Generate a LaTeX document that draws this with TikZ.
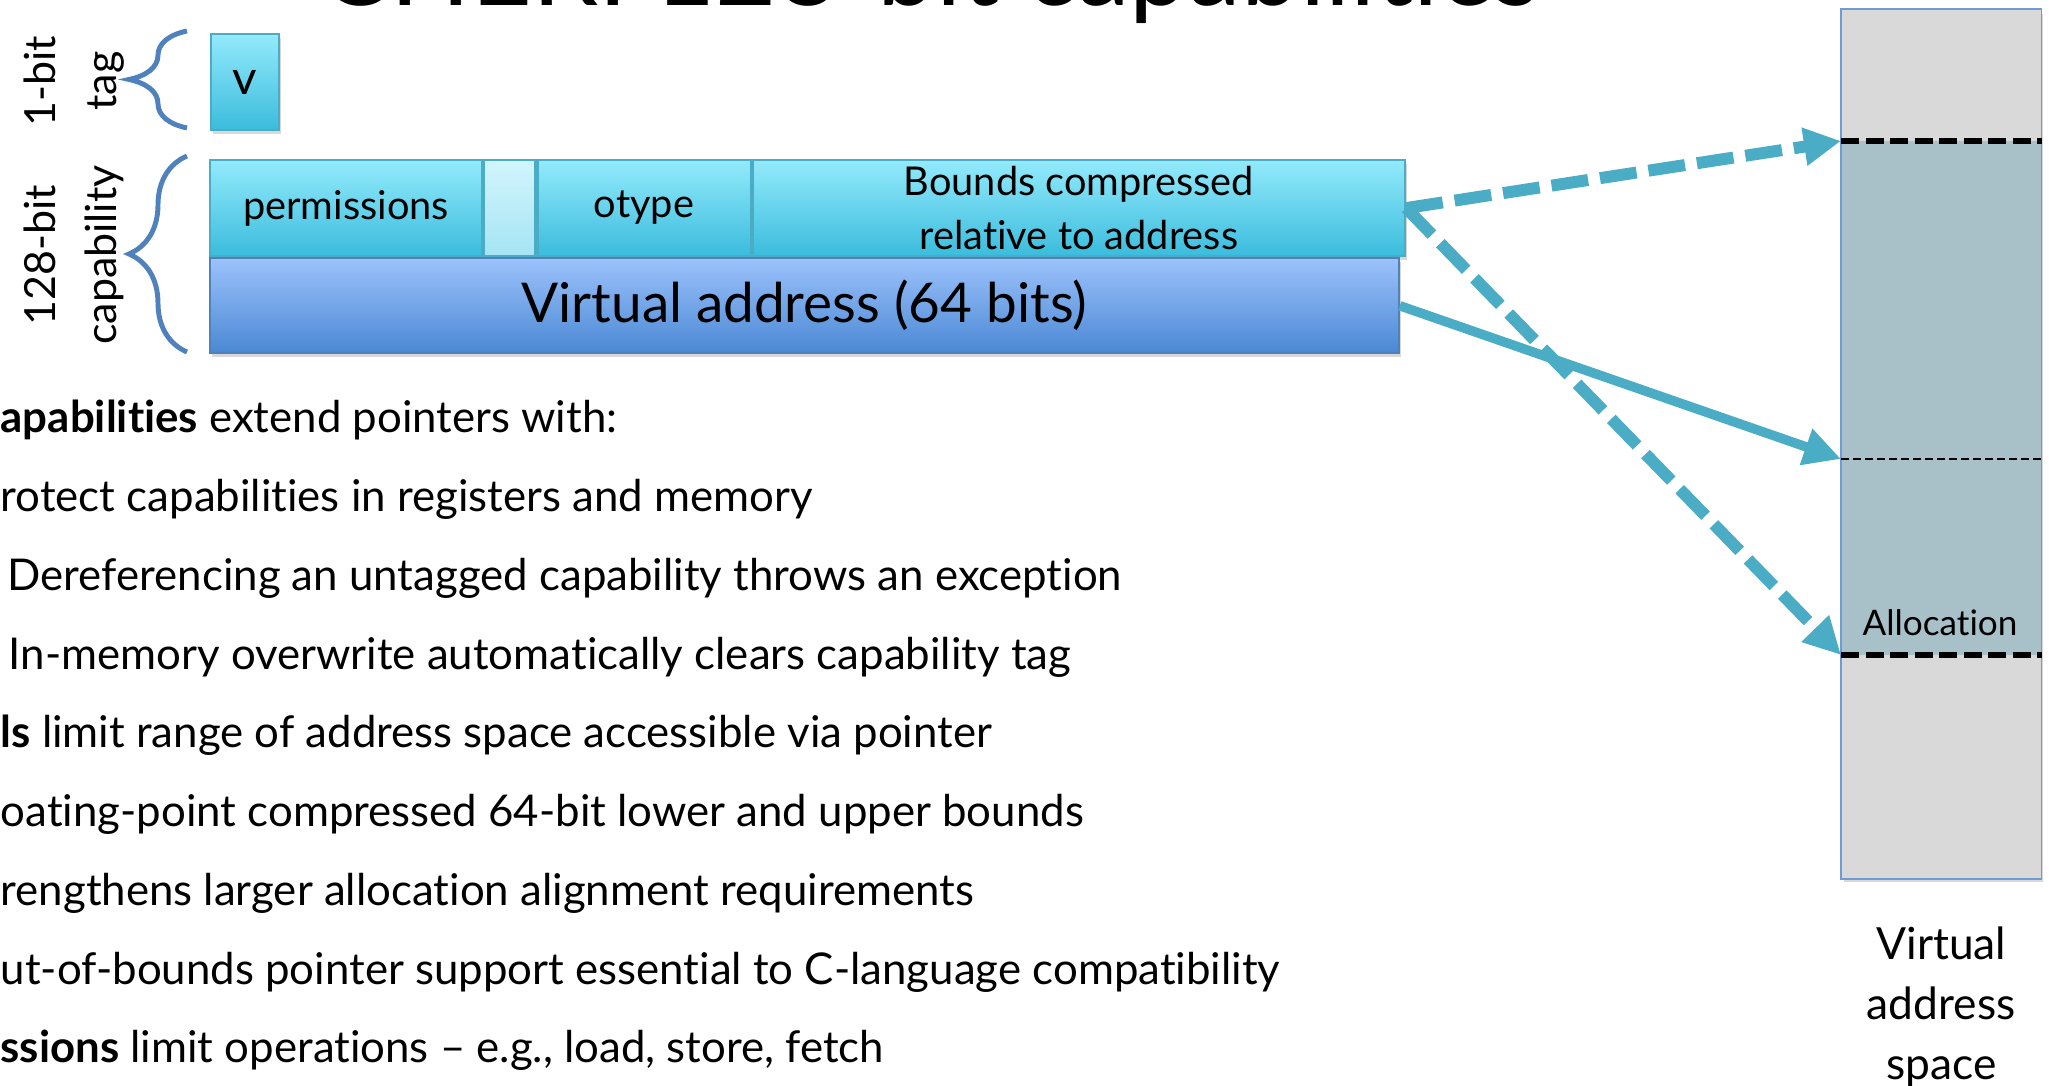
\documentclass[tikz,border=0pt]{standalone}
\usepackage{fontspec}
\setmainfont{Lato}[Ligatures=NoCommon]
\usetikzlibrary{positioning,arrows.meta,decorations.pathreplacing,shadows}
\definecolor{cyanhi}{RGB}{147,234,251}
\definecolor{cyanlo}{RGB}{59,188,221}
\definecolor{cyanln}{RGB}{75,172,198}
\definecolor{gaphi}{RGB}{210,245,253}
\definecolor{gaplo}{RGB}{165,228,244}
\definecolor{addrhi}{RGB}{156,194,251}
\definecolor{addrlo}{RGB}{74,136,212}
\definecolor{addrln}{RGB}{79,129,189}
\definecolor{bracecol}{RGB}{79,129,189}
\definecolor{ptrcol}{RGB}{75,172,198}
\definecolor{vasfill}{RGB}{217,217,217}
\definecolor{vasln}{RGB}{110,155,213}
\definecolor{allocfill}{RGB}{168,192,199}
\tikzset{%
  boxshadow/.style={drop shadow={shadow xshift=0.6pt,shadow yshift=-1.2pt,opacity=.3}},
  field/.style={draw=cyanln,line width=0.6pt,top color=cyanhi,bottom color=cyanlo,
    minimum height=0.96cm,inner sep=0pt,align=center,boxshadow,
    font=\fontsize{11.3}{15.4}\selectfont},
  gapfield/.style={field,top color=gaphi,bottom color=gaplo},
  addr/.style={draw=addrln,line width=0.6pt,top color=addrhi,bottom color=addrlo,
    minimum width=11.88cm,minimum height=0.95cm,inner sep=0pt,boxshadow,
    font=\fontsize{15.6}{18}\selectfont},
  sidelbl/.style={rotate=90,align=center,inner sep=0pt,font=\fontsize{12.2}{17.4}\selectfont},
  tagbrace/.style={draw=bracecol,line width=1.4pt,decorate,decoration={brace,amplitude=0.58cm}},
  bodytxt/.style={anchor=base west,inner sep=0pt,font=\fontsize{12.45}{14}\selectfont},
  vas/.style={fill=vasfill,minimum width=1.99cm,minimum height=8.68cm,inner sep=0pt,boxshadow},
  bound/.style={line width=1.6pt,dash pattern=on 0.18cm off 0.065cm},
  ptr/.style={draw=ptrcol,line width=3.4pt,-{Triangle[length=0.37cm,width=0.36cm]}},
  dashptr/.style={dash pattern=on 0.37cm off 0.12cm}
}
\begin{document}
\begin{tikzpicture}[x=0.01cm,y=-0.01cm]
\clip (0,0) rectangle (2049,1086);
\useasboundingbox (0,0) rectangle (2049,1086);
\fill[white] (0,0) rectangle (2049,1086);
% title, mostly above the page
\node[anchor=base,inner sep=0pt,font=\fontsize{30}{32}\selectfont] (title) at (930,6) {CHERI 128-bit capabilities};

% tag and capability
\node[field,minimum width=0.68cm,font=\fontsize{13.5}{15}\selectfont,anchor=north west] (tagv) at (210,33) {v};
\node[field,minimum width=2.72cm,anchor=north west] (perm) at (209,159) {permissions};
\node[gapfield,minimum width=0.51cm,right=0pt of perm] (gap) {};
\node[field,minimum width=2.13cm,right=0pt of gap] (otype) {otype};
\node[field,minimum width=6.52cm,right=0pt of otype] (bounds) {Bounds compressed\\relative to address};
\node[addr,anchor=north west] (vaddr) at (perm.south west) {Virtual address (64 bits)};

\draw[tagbrace] (187,128) -- (187,31);
\draw[tagbrace] (187,352) -- (187,156);
\node[sidelbl] (taglbl) at (74,81) {1-bit\\tag};
\node[sidelbl] (caplbl) at (74,255) {128-bit\\capability};

% bullet text
\node[bodytxt] (l1) at (0,433) {\textbf{apabilities} extend pointers with:};
\node[bodytxt,below=0.787cm of l1.base west,anchor=base west] (l2) {rotect capabilities in registers and memory};
\node[bodytxt,below=0.787cm of l2.base west,anchor=base west,xshift=0.07cm] (l3) {Dereferencing an untagged capability throws an exception};
\node[bodytxt,below=0.787cm of l3.base west,anchor=base west,xshift=0.01cm] (l4) {In-memory overwrite automatically clears capability tag};
\node[bodytxt,below=0.787cm of l4.base west,anchor=base west,xshift=-0.08cm] (l5) {\textbf{ls} limit range of address space accessible via pointer};
\node[bodytxt,below=0.787cm of l5.base west,anchor=base west] (l6) {oating-point compressed 64-bit lower and upper bounds};
\node[bodytxt,below=0.787cm of l6.base west,anchor=base west] (l7) {rengthens larger allocation alignment requirements};
\node[bodytxt,below=0.787cm of l7.base west,anchor=base west] (l8) {ut-of-bounds pointer support essential to C-language compatibility};
\node[bodytxt,below=0.787cm of l8.base west,anchor=base west] (l9) {\textbf{ssions} limit operations – e.g., load, store, fetch};

% virtual address space
\node[vas,anchor=north west] (vas) at (1841,9) {};
\coordinate (atop) at (1841,141);
\coordinate (amid) at (1841,459);
\coordinate (abot) at (1841,655);
\fill[allocfill] (atop) rectangle (vas.east |- abot);
\draw[vasln,line width=0.5pt] (vas.north west) rectangle (vas.south east);
\draw[bound] (atop) -- (vas.east |- atop);
\draw[bound] (abot) -- (vas.east |- abot);
\draw[line width=0.6pt,dash pattern=on 0.08cm off 0.04cm] (amid) -- (vas.east |- amid);
\node[anchor=base,inner sep=0pt,font=\fontsize{10}{12}\selectfont] (alloc) at (1940,636) {Allocation};
\node[below=0.36cm of vas.south,align=center,font=\fontsize{12.6}{17}\selectfont] (vaslbl) {Virtual\\address\\space};

\draw[ptr,dashptr] (bounds.east) -- (atop);
\draw[ptr,dashptr] (bounds.east) -- (abot);
\draw[ptr,line width=2.7pt] (vaddr.east) -- (amid);
\end{tikzpicture}
\end{document}
